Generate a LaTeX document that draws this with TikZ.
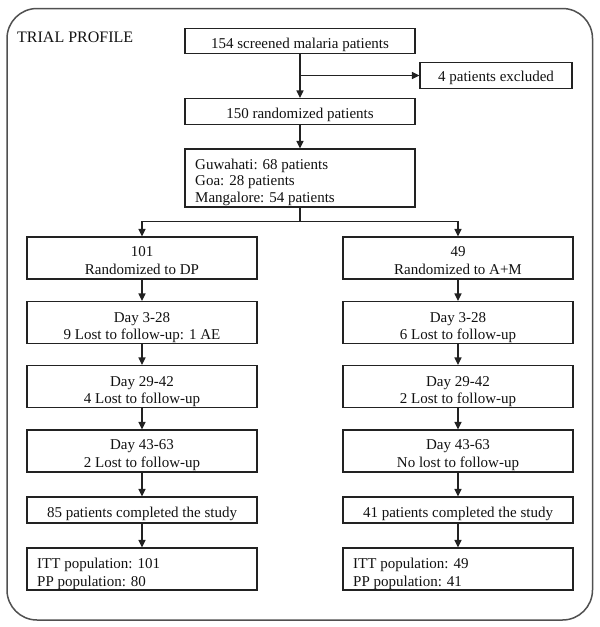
\documentclass[tikz,border=0pt]{standalone}
\usepackage{fontspec}
\setmainfont{Liberation Serif}
\usetikzlibrary{arrows.meta}
\definecolor{boxline}{HTML}{222222}
\definecolor{frameline}{HTML}{505050}
\definecolor{txtc}{HTML}{111111}
\begin{document}
\begin{tikzpicture}[x=1pt,y=-1pt,
  box/.style={draw=boxline, line width=1.1pt, minimum width=230pt, inner sep=0pt},
  txt/.style={anchor=base, inner sep=0pt, text=txtc, font=\fontsize{15}{17}\selectfont},
  ltxt/.style={txt, anchor=base west},
  arr/.style={draw=boxline, line width=1.2pt, -{Triangle[length=7.5pt,width=7pt]}},
  ln/.style={draw=boxline, line width=1.2pt}]
\useasboundingbox (0,0) rectangle (600,627);
% outer frame
\draw[frameline, line width=1.5pt, rounded corners=30pt] (7,8.5) rectangle (592.5,620);
\node[ltxt, font=\fontsize{16}{18}\selectfont] (title) at (17,42.7) {TRIAL PROFILE};

% top column
\node[box, minimum height=25pt] (A) at (300,41) {};
\node[box, minimum width=152pt, minimum height=26pt] (X) at (496,75.5) {};
\node[box, minimum height=26pt] (B) at (300,111.5) {};
\node[box, minimum height=58pt] (S) at (300,178) {};
\node[txt] (At) at (300,48) {154 screened malaria patients};
\node[txt] (Xt) at (496,81.7) {4 patients excluded};
\node[txt] (Bt) at (300,118) {150 randomized patients};
\node[ltxt] (St1) at (195,169) {Guwahati: 68 patients};
\node[ltxt] (St2) at (195,185.7) {Goa: 28 patients};
\node[ltxt] (St3) at (195,202.3) {Mangalore: 54 patients};

% left column
\node[box, minimum height=42pt] (L1) at (142,258) {};
\node[box, minimum height=42pt] (L2) at (142,322.5) {};
\node[box, minimum height=42pt] (L3) at (142,386.5) {};
\node[box, minimum height=42pt] (L4) at (142,451) {};
\node[box, minimum height=26pt] (L5) at (142,510) {};
\node[box, minimum height=42pt] (L6) at (142,569) {};
\node[txt] (L1a) at (142,256) {101};
\node[txt] (L1b) at (142,274.5) {Randomized to DP};
\node[txt] (L2a) at (142,322) {Day 3-28};
\node[txt] (L2b) at (142,339) {9 Lost to follow-up: 1 AE};
\node[txt] (L3a) at (142,386) {Day 29-42};
\node[txt] (L3b) at (142,403) {4 Lost to follow-up};
\node[txt] (L4a) at (142,449.5) {Day 43-63};
\node[txt] (L4b) at (142,467) {2 Lost to follow-up};
\node[txt] (L5a) at (142,517.5) {85 patients completed the study};
\node[ltxt] (L6a) at (37,568.5) {ITT population: 101};
\node[ltxt] (L6b) at (37,586) {PP population: 80};

% right column
\node[box, minimum height=42pt] (R1) at (458,258) {};
\node[box, minimum height=42pt] (R2) at (458,322.5) {};
\node[box, minimum height=42pt] (R3) at (458,386.5) {};
\node[box, minimum height=42pt] (R4) at (458,451) {};
\node[box, minimum height=26pt] (R5) at (458,510) {};
\node[box, minimum height=42pt] (R6) at (458,569) {};
\node[txt] (R1a) at (458,256) {49};
\node[txt] (R1b) at (458,274.5) {Randomized to A+M};
\node[txt] (R2a) at (458,322) {Day 3-28};
\node[txt] (R2b) at (458,339) {6 Lost to follow-up};
\node[txt] (R3a) at (458,386) {Day 29-42};
\node[txt] (R3b) at (458,403) {2 Lost to follow-up};
\node[txt] (R4a) at (458,449.5) {Day 43-63};
\node[txt] (R4b) at (458,467) {No lost to follow-up};
\node[txt] (R5a) at (458,517.5) {41 patients completed the study};
\node[ltxt] (R6a) at (353,568.5) {ITT population: 49};
\node[ltxt] (R6b) at (353,586) {PP population: 41};

% connectors
\draw[arr] (A.south) -- (B.north);
\coordinate (br) at (300,75.5);
\draw[arr] (br) -- (X.west);
\draw[arr] (B.south) -- (S.north);
\coordinate (sp) at (300,221.7);
\draw[ln] (S.south) -- (sp);
\draw[arr] (sp) -| (L1.north);
\draw[arr] (sp) -| (R1.north);
\draw[arr] (L1.south) -- (L2.north);
\draw[arr] (L2.south) -- (L3.north);
\draw[arr] (L3.south) -- (L4.north);
\draw[arr] (L4.south) -- (L5.north);
\draw[arr] (L5.south) -- (L6.north);
\draw[arr] (R1.south) -- (R2.north);
\draw[arr] (R2.south) -- (R3.north);
\draw[arr] (R3.south) -- (R4.north);
\draw[arr] (R4.south) -- (R5.north);
\draw[arr] (R5.south) -- (R6.north);
\end{tikzpicture}
\end{document}
